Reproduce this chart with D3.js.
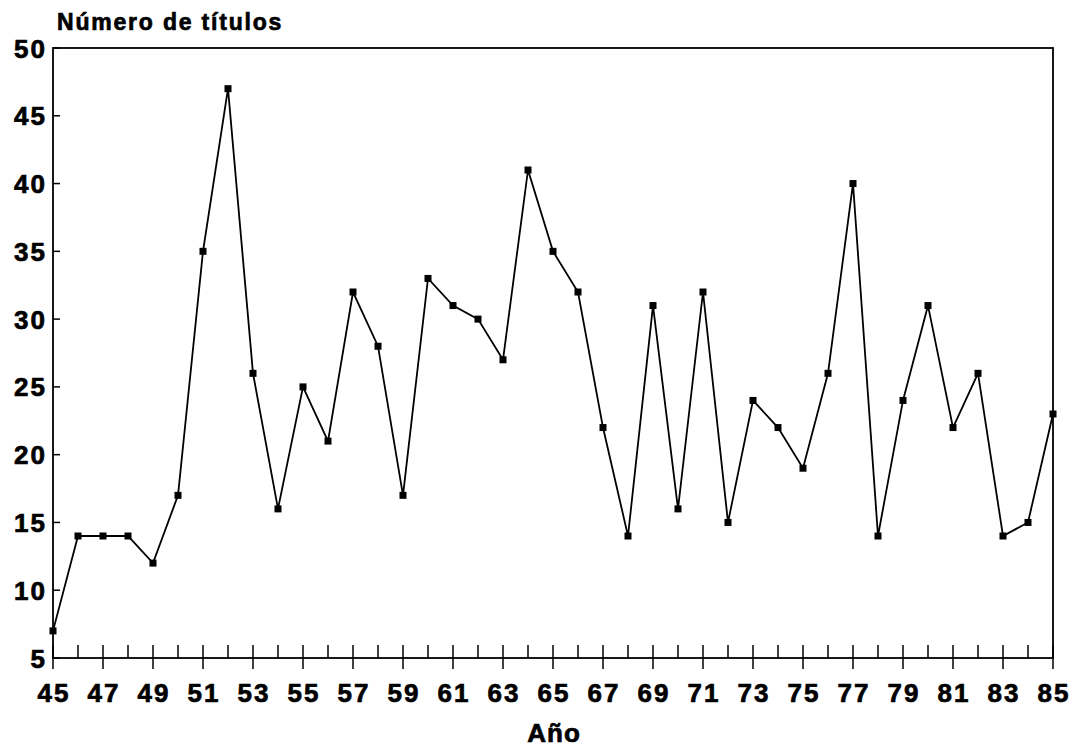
<!DOCTYPE html>
<html><head><meta charset="utf-8">
<script src="https://cdn.jsdelivr.net/npm/d3@7"></script>
<style>body{margin:0;background:#fff}svg text{font-family:"Liberation Sans",Arial,sans-serif;font-weight:bold;fill:#000;stroke:#000;stroke-width:0.7px}</style>
</head><body>
<svg id="c" width="1085" height="749"></svg>
<script>
const years = [45,46,47,48,49,50,51,52,53,54,55,56,57,58,59,60,61,62,63,64,65,66,67,68,69,70,71,72,73,74,75,76,77,78,79,80,81,82,83,84,85];
const values = [7,14,14,14,12,17,35,47,26,16,25,21,32,28,17,33,31,30,27,41,35,32,22,14,31,16,32,15,24,22,19,26,40,14,24,31,22,26,14,15,23];
const yTicks = [5,10,15,20,25,30,35,40,45,50];
const xLabelTicks = [45,47,49,51,53,55,57,59,61,63,65,67,69,71,73,75,77,79,81,83,85];
const yTitle = "Número de títulos";
const xTitle = "Año";

const L=53,R=1053,T=48,B=658;
const svg=d3.select("#c");
const x=d3.scaleLinear().domain([45,85]).range([L,R]);
const y=d3.scaleLinear().domain([5,50]).range([B,T]);

// frame
svg.append("rect").attr("x",L).attr("y",T).attr("width",R-L).attr("height",B-T)
  .attr("fill","none").attr("stroke","#000").attr("stroke-width",1.8);

// y ticks
yTicks.forEach(v=>{
  svg.append("line").attr("x1",L).attr("x2",L+7).attr("y1",y(v)).attr("y2",y(v)).attr("stroke","#000").attr("stroke-width",1.5);
  svg.append("text").attr("x",L-6).attr("y",y(v)+9.5).attr("text-anchor","end")
    .attr("font-size",26).attr("letter-spacing",2).text(v);
});
// x ticks
years.forEach(v=>{
  const major = xLabelTicks.includes(v);
  svg.append("line").attr("x1",x(v)).attr("x2",x(v)).attr("y1",B-13).attr("y2",major?B+11:B).attr("stroke","#000").attr("stroke-width",1.5);
});
xLabelTicks.forEach(v=>{
  svg.append("text").attr("x",x(v)+1).attr("y",B+44).attr("text-anchor","middle")
    .attr("font-size",26).attr("letter-spacing",2).text(v);
});

svg.append("text").attr("x",57).attr("y",30).attr("font-size",23).attr("letter-spacing",1.8).text(yTitle);
svg.append("text").attr("x",554).attr("y",742).attr("text-anchor","middle").attr("font-size",26).attr("letter-spacing",1).text(xTitle);

const data=years.map((yr,i)=>({yr,v:values[i]}));
svg.append("path").datum(data).attr("fill","none").attr("stroke","#000").attr("stroke-width",1.8)
  .attr("d",d3.line().x(d=>x(d.yr)).y(d=>y(d.v)));
svg.selectAll("rect.m").data(data).enter().append("rect").attr("class","m")
  .attr("x",d=>x(d.yr)-3.5).attr("y",d=>y(d.v)-3.5).attr("width",7).attr("height",7).attr("fill","#000");
</script>
</body></html>
